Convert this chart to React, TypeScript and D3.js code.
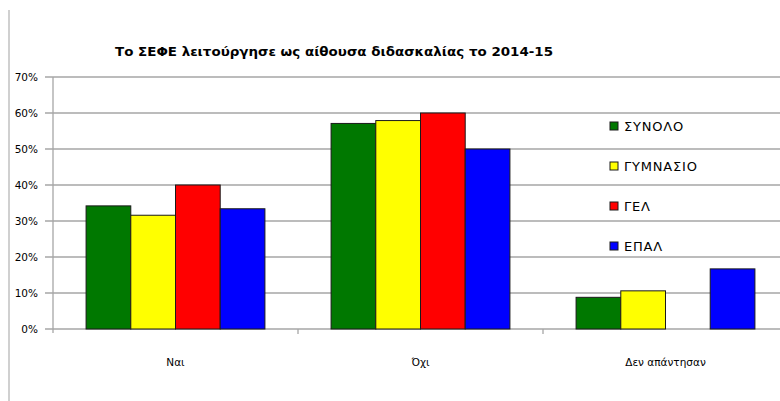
import React from "react";
import * as d3 from "d3";

const categories = ["Ναι", "Όχι", "Δεν απάντησαν"];
const seriesNames = ["ΣΥΝΟΛΟ", "ΓΥΜΝΑΣΙΟ", "ΓΕΛ", "ΕΠΑΛ"];
const seriesColors = ["#007800", "#ffff00", "#ff0000", "#0000ff"];
const synolo = [0.342, 0.571, 0.088];
const gymnasio = [0.316, 0.579, 0.106];
const gel = [0.4, 0.6, 0];
const epal = [0.334, 0.5, 0.167];
const yTicks = [0, 0.1, 0.2, 0.3, 0.4, 0.5, 0.6, 0.7];
const title = "Το ΣΕΦΕ λειτούργησε ως αίθουσα διδασκαλίας το 2014-15";

const W = 780;
const H = 401;

export default function App() {
  const values = [synolo, gymnasio, gel, epal];
  const x0 = d3.scaleBand<string>().domain(categories).range([53, 788]).padding(0);
  const x1 = d3
    .scaleBand<string>()
    .domain(seriesNames)
    .range([0, x0.bandwidth()])
    .paddingInner(0)
    .paddingOuter(0.74);
  const y = d3.scaleLinear().domain([0, 0.7]).range([329, 77]);
  const fmt = d3.format(".0%");
  const font = "'DejaVu Sans', sans-serif";

  return (
    <svg
      width={W}
      height={H}
      style={{ position: "absolute", left: 0, top: 0, background: "#fff" }}
      fontFamily={font}
    >
      <rect x={0} y={0} width={W} height={H} fill="#fff" />
      <line x1={9} x2={9} y1={10} y2={H} stroke="#c0c0c0" strokeWidth={1.5} />
      <text x={115} y={56} fontSize={12.5} fontWeight="bold" fill="#000" textLength={438} lengthAdjust="spacingAndGlyphs">
        {title}
      </text>
      {yTicks.map((t) => (
        <g key={t}>
          <line x1={45} x2={W} y1={y(t)} y2={y(t)} stroke="#a6a6a6" strokeWidth={1.3} />
          <text x={38} y={y(t) + 4} fontSize={10.5} textAnchor="end" fill="#000">
            {fmt(t)}
          </text>
        </g>
      ))}
      <line x1={53} x2={53} y1={77} y2={333} stroke="#a6a6a6" strokeWidth={1.3} />
      {categories.map((c, i) => (
        <g key={c}>
          <line
            x1={(x0(c) as number) + x0.bandwidth()}
            x2={(x0(c) as number) + x0.bandwidth()}
            y1={329}
            y2={334}
            stroke="#a6a6a6"
            strokeWidth={1.3}
          />
          <text
            x={(x0(c) as number) + x0.bandwidth() / 2}
            y={366}
            fontSize={10.5}
            textAnchor="middle"
            fill="#000"
          >
            {c}
          </text>
          {seriesNames.map((s, j) => {
            const v = values[j][i];
            if (v <= 0) return null;
            return (
              <rect
                key={s}
                x={(x0(c) as number) + (x1(s) as number)}
                y={y(v)}
                width={x1.bandwidth()}
                height={y(0) - y(v)}
                fill={seriesColors[j]}
                stroke="#1a1a1a"
                strokeWidth={1}
              />
            );
          })}
        </g>
      ))}
      {seriesNames.map((s, j) => (
        <g key={s} transform={`translate(610, ${126 + j * 40})`}>
          <rect x={0} y={-4} width={8} height={8} fill={seriesColors[j]} stroke="#1a1a1a" strokeWidth={1} />
          <text x={14} y={5} fontSize={13} letterSpacing={0.8} fill="#000">
            {s}
          </text>
        </g>
      ))}
    </svg>
  );
}
